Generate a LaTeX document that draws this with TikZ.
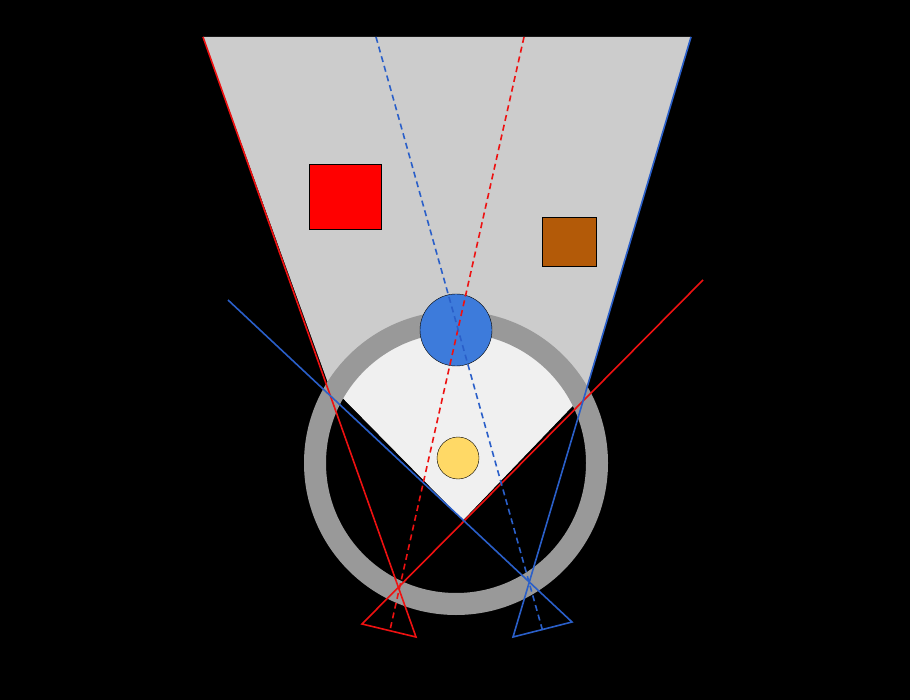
\documentclass[tikz,border=0pt]{standalone}
\usetikzlibrary{calc}
\definecolor{bgray}{HTML}{CCCCCC}
\definecolor{lgray}{HTML}{F0F0F0}
\definecolor{rgray}{HTML}{999999}
\definecolor{myred}{HTML}{EE1111}
\definecolor{myblue}{HTML}{2A5FC9}
\definecolor{ballblue}{HTML}{3D7BDB}
\definecolor{brown}{HTML}{B35A08}
\definecolor{yel}{HTML}{FFD966}
\tikzset{rl/.style={myred,line width=1.6pt},bl/.style={myblue,line width=1.6pt},
 dsh/.style={dash pattern=on 6pt off 4pt}}
\begin{document}
\begin{tikzpicture}[x=1pt,y=-1pt]
\fill[black] (0,0) rectangle (910,700);
\useasboundingbox (0,0) rectangle (910,700);
\coordinate (TL) at (203,37); \coordinate (TR) at (691,37);
\coordinate (L) at (328,383); \coordinate (X) at (463,520); \coordinate (R) at (585,393);
\fill[bgray] (TL) -- (TR) -- (R) -- (X) -- (L) -- cycle;
\begin{scope}
\clip (456,463) circle (141);
\fill[lgray] (TL) -- (TR) -- (R) -- (X) -- (L) -- cycle;
\end{scope}
\draw[rgray,line width=22pt] (456,463) circle (141);
\node[draw=black,fill=red,minimum width=72pt,minimum height=65pt,inner sep=0pt] (rsq) at (345,196.5) {};
\node[draw=black,fill=brown,minimum width=54pt,minimum height=49pt,inner sep=0pt] (bsq) at (569,241.5) {};
\node[circle,draw=black,fill=yel,minimum size=42pt,inner sep=0pt] (yc) at (458,458) {};
% red
\coordinate (ra) at (398,587); \coordinate (rb1) at (362,624); \coordinate (rb2) at (416,637);
\draw[rl] (TL) -- (rb2) -- (rb1) -- (703,280);
\coordinate (rd1) at (524,37); \coordinate (rd2) at (390,630);
% blue
\coordinate (ba) at (530,580); \coordinate (bb1) at (513,637); \coordinate (bb2) at (572,622);
\draw[bl] (TR) -- (bb1) -- (bb2) -- (228,300);
\coordinate (bd1) at (376,37); \coordinate (bd2) at (543,632);
\node[circle,draw=black,fill=ballblue,minimum size=72pt,inner sep=0pt] (bc) at (456,330) {};
\draw[rl,dsh] (rd1) -- (rd2);
\draw[bl,dsh] (bd1) -- (bd2);
\end{tikzpicture}
\end{document}
